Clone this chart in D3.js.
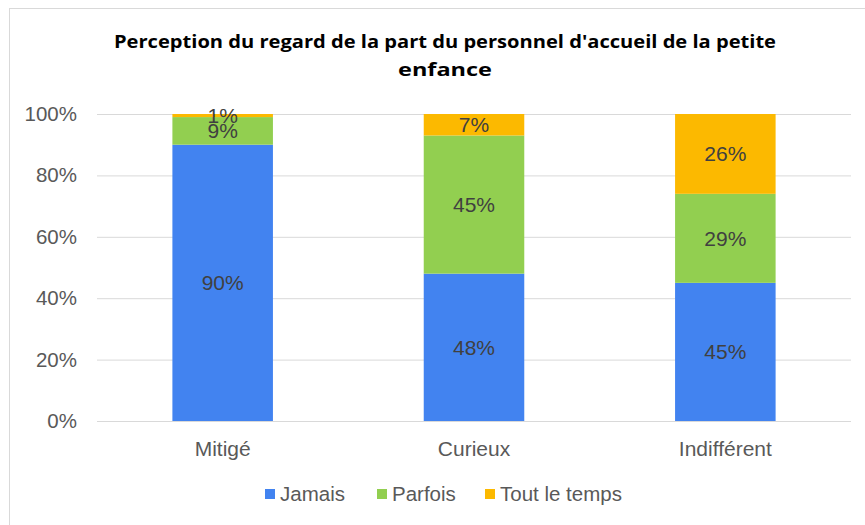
<!DOCTYPE html>
<meta charset="utf-8">
<style>
body { margin: 0; background: #fff; }
svg text { font-family: "Liberation Sans", Arial, sans-serif; }
.title { font-family: "Open Sans", sans-serif !important; font-weight: bold; fill: #000; }
.tick text { fill: #595959; }
</style>
<body>
<script src="https://cdn.jsdelivr.net/npm/d3@7"></script>
<script>

var categories = ["Mitigé", "Curieux", "Indifférent"];
var series = ["Jamais", "Parfois", "Tout le temps"];
var jamais = [90, 48, 45];
var parfois = [9, 45, 29];
var toutLeTemps = [1, 7, 26];
var yTicks = [0, 20, 40, 60, 80, 100];
var colors = ["#4283f0", "#92cf50", "#fcb900"];

var width = 865, height = 525;
var margin = {top: 114, left: 97, right: 14, bottom: 104};

var svg = d3.select("body").append("svg")
    .attr("width", width)
    .attr("height", height);

// chart frame (cropped on right/bottom)
svg.append("rect")
    .attr("x", 9.5).attr("y", 8.5)
    .attr("width", width + 20).attr("height", height + 20)
    .attr("fill", "none").attr("stroke", "#d9d9d9");

var title = svg.append("text")
    .attr("class", "title")
    .attr("text-anchor", "middle")
    .style("font-size", "18px");
title.append("tspan").attr("x", 445).attr("y", 48)
    .attr("textLength", 662).attr("lengthAdjust", "spacingAndGlyphs")
    .text("Perception du regard de la part du personnel d'accueil de la petite");
title.append("tspan").attr("x", 445).attr("y", 76)
    .attr("textLength", 94).attr("lengthAdjust", "spacingAndGlyphs")
    .text("enfance");

var x = d3.scaleBand()
    .domain(categories)
    .range([margin.left, width - margin.right])
    .paddingInner(0.6)
    .paddingOuter(0.3);

var y = d3.scaleLinear()
    .domain([0, 100])
    .range([height - margin.bottom, margin.top]);

// gridlines + y ticks
var yAxis = svg.append("g")
    .attr("transform", "translate(" + (width - margin.right) + ",0)")
    .call(d3.axisLeft(y)
      .tickValues(yTicks)
      .tickSize(width - margin.right - margin.left)
      .tickPadding(20)
      .tickFormat(function(d) { return d + "%"; }));
yAxis.select(".domain").remove();
yAxis.selectAll(".tick line").attr("stroke", "#d9d9d9");
yAxis.selectAll(".tick text").style("font-size", "20.5px");

var rows = categories.map(function(c, i) {
  return {cat: c, "Jamais": jamais[i], "Parfois": parfois[i], "Tout le temps": toutLeTemps[i]};
});
var stacked = d3.stack().keys(series)(rows);

var layers = svg.selectAll(".layer")
    .data(stacked)
    .enter().append("g")
    .attr("class", "layer")
    .attr("fill", function(d, i) { return colors[i]; });

layers.selectAll("rect")
    .data(function(d) { return d; })
    .enter().append("rect")
    .attr("x", function(d) { return x(d.data.cat); })
    .attr("width", x.bandwidth())
    .attr("y", function(d) { return y(d[1]); })
    .attr("height", function(d) { return y(d[0]) - y(d[1]); });

layers.selectAll(".lbl")
    .data(function(d) { return d.map(function(p) { return {p: p, key: d.key}; }); })
    .enter().append("text")
    .attr("class", "lbl")
    .attr("x", function(d) { return x(d.p.data.cat) + x.bandwidth() / 2; })
    .attr("y", function(d) { return y((d.p[0] + d.p[1]) / 2); })
    .attr("dy", "0.36em")
    .attr("text-anchor", "middle")
    .style("font-size", "21px")
    .attr("fill", "#404040")
    .text(function(d) { return (d.p[1] - d.p[0]) + "%"; });

// x axis baseline + labels
svg.append("line")
    .attr("x1", margin.left).attr("x2", width - margin.right)
    .attr("y1", y(0) + 0.5).attr("y2", y(0) + 0.5)
    .attr("stroke", "#d9d9d9");

svg.selectAll(".xlbl")
    .data(categories)
    .enter().append("text")
    .attr("class", "xlbl")
    .attr("x", function(d) { return x(d) + x.bandwidth() / 2; })
    .attr("y", 455.5)
    .attr("text-anchor", "middle")
    .style("font-size", "21px")
    .attr("fill", "#595959")
    .text(function(d) { return d; });

// legend
var legendX = [265, 377, 485];
var legend = svg.selectAll(".leg")
    .data(series)
    .enter().append("g")
    .attr("class", "leg")
    .attr("transform", function(d, i) { return "translate(" + legendX[i] + ",489)"; });
legend.append("rect")
    .attr("width", 10).attr("height", 10)
    .attr("fill", function(d, i) { return colors[i]; });
legend.append("text")
    .attr("x", 15).attr("y", 12)
    .style("font-size", "20.5px")
    .attr("fill", "#595959")
    .text(function(d) { return d; });

</script>
</body>
